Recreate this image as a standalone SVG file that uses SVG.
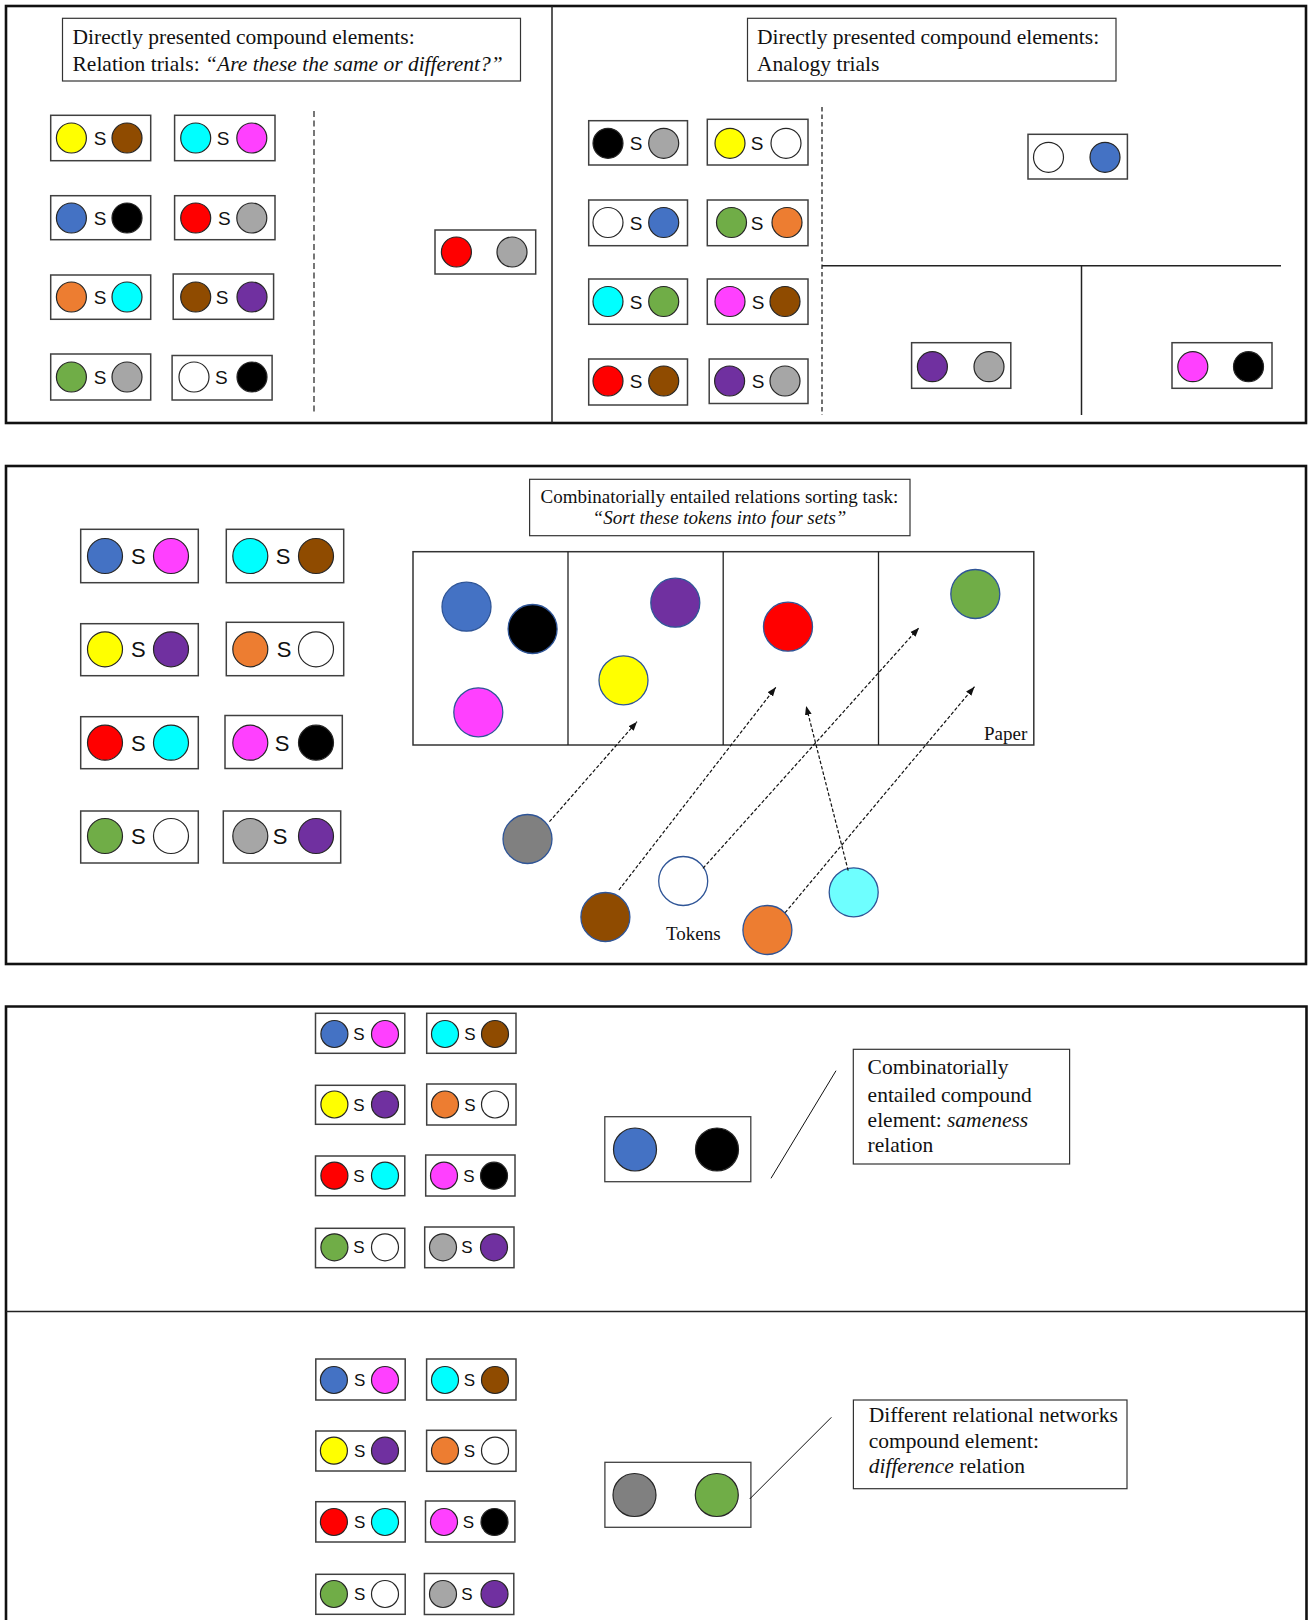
<svg xmlns="http://www.w3.org/2000/svg" width="1309" height="1620" viewBox="0 0 1309 1620">
  <defs>
    <style>
      .frame { fill: none; stroke: #111; stroke-width: 2.6; }
      .rule { stroke: #222; stroke-width: 1.5; fill: none; }
      .dash1 { stroke: #555; stroke-width: 1.6; stroke-dasharray: 6 3.5; fill: none; }
      .dash2 { stroke: #333; stroke-width: 1.4; stroke-dasharray: 4.5 3; fill: none; }
      .pb { fill: #fff; stroke: #404040; stroke-width: 1.5; }
      .tb { fill: #fff; stroke: #333; stroke-width: 1.2; }
      .pc { stroke: #262626; stroke-width: 1.2; }
      .tk { stroke: #2F5597; stroke-width: 1.3; }
      .s1 { font-family: "Liberation Sans", Arial, sans-serif; font-size: 19px; text-anchor: middle; fill: #111; }
      .s2 { font-family: "Liberation Sans", Arial, sans-serif; font-size: 22px; text-anchor: middle; fill: #111; }
      .s3 { font-family: "Liberation Sans", Arial, sans-serif; font-size: 17px; text-anchor: middle; fill: #111; }
      .t21 { font-family: "Liberation Serif", "Times New Roman", serif; font-size: 21.5px; fill: #111; }
      .t19 { font-family: "Liberation Serif", "Times New Roman", serif; font-size: 19px; fill: #111; }
      .it { font-style: italic; }
      .arr { stroke: #111; stroke-width: 1.2; stroke-dasharray: 3.5 2; fill: none; marker-end: url(#head); }
      .call { stroke: #111; stroke-width: 1; fill: none; }
      .yel { fill: #FFFF00; } .brn { fill: #8F4B00; } .cya { fill: #00FFFF; } .mag { fill: #FF40FF; }
      .blu { fill: #4472C4; } .blk { fill: #000; } .red { fill: #FF0000; } .gry { fill: #A6A6A6; }
      .dgy { fill: #808080; } .org { fill: #ED7D31; } .pur { fill: #7030A0; } .grn { fill: #70AD47; }
      .wht { fill: #FFFFFF; } .lcy { fill: #6EFFFF; }
    </style>
    <marker id="head" viewBox="0 0 10 10" refX="10" refY="5" markerWidth="9" markerHeight="9" markerUnits="userSpaceOnUse" orient="auto">
      <path d="M0,1.2 L10,5 L0,8.8 z" fill="#111"/>
    </marker>
  </defs>

  <rect width="1309" height="1620" fill="#fff"/>

  <!-- panel frames and dividers -->
  <g id="frames">
    <rect class="frame" x="6" y="6" width="1300" height="417"/>
    <line class="rule" x1="552" y1="6" x2="552" y2="423"/>
    <rect class="frame" x="6" y="466" width="1300" height="498"/>
    <path class="frame" d="M6,1620 V1006.5 H1306.5 V1620"/>
    <line class="rule" x1="6" y1="1311.5" x2="1306" y2="1311.5" style="stroke-width:1.3"/>
    <line class="dash1" x1="314" y1="111" x2="314" y2="413"/>
    <line class="dash2" x1="822" y1="107" x2="822" y2="415"/>
    <line class="rule" x1="822" y1="265.7" x2="1281" y2="265.7"/>
    <line class="rule" x1="1081.5" y1="265.7" x2="1081.5" y2="415"/>
  </g>

  <!-- top left: relation trials -->
  <g id="title-relation">
    <rect class="tb" x="62.5" y="18.3" width="458" height="62.7"/>
    <text class="t21" x="72.5" y="44">Directly presented compound elements:</text>
    <text class="t21" x="72.5" y="70.7">Relation trials: <tspan class="it">“Are these the same or different?”</tspan></text>
  </g>
  <g id="r-pair-1"><rect class="pb" x="50.7" y="115.3" width="100" height="45.4"/><circle class="pc yel" cx="71.4" cy="138" r="15"/><text class="s1" x="100" y="145">S</text><circle class="pc brn" cx="127" cy="138" r="15"/></g>
  <g id="r-pair-2"><rect class="pb" x="174.6" y="115.3" width="100.4" height="45.4"/><circle class="pc cya" cx="195.7" cy="138" r="15"/><text class="s1" x="223" y="145">S</text><circle class="pc mag" cx="251.8" cy="138" r="15"/></g>
  <g id="r-pair-3"><rect class="pb" x="50.7" y="195.7" width="100" height="44"/><circle class="pc blu" cx="71.4" cy="218" r="15"/><text class="s1" x="100" y="225">S</text><circle class="pc blk" cx="127" cy="218" r="15"/></g>
  <g id="r-pair-4"><rect class="pb" x="174.6" y="195.7" width="100.4" height="44"/><circle class="pc red" cx="195.7" cy="218" r="15"/><text class="s1" x="224.3" y="225">S</text><circle class="pc gry" cx="251.8" cy="218" r="15"/></g>
  <g id="r-pair-5"><rect class="pb" x="50.7" y="275" width="100" height="44.3"/><circle class="pc org" cx="71.4" cy="297" r="15"/><text class="s1" x="100" y="304">S</text><circle class="pc cya" cx="127" cy="297" r="15"/></g>
  <g id="r-pair-6"><rect class="pb" x="173.2" y="274" width="100.4" height="45.3"/><circle class="pc brn" cx="195.7" cy="297" r="15"/><text class="s1" x="222" y="304">S</text><circle class="pc pur" cx="252" cy="297" r="15"/></g>
  <g id="r-pair-7"><rect class="pb" x="50.7" y="354" width="100" height="46"/><circle class="pc grn" cx="71.4" cy="377" r="15"/><text class="s1" x="100" y="384">S</text><circle class="pc gry" cx="127" cy="377" r="15"/></g>
  <g id="r-pair-8"><rect class="pb" x="172.1" y="355.5" width="100" height="44.5"/><circle class="pc wht" cx="194" cy="377" r="15"/><text class="s1" x="221.4" y="384">S</text><circle class="pc blk" cx="252" cy="377" r="15"/></g>
  <g id="r-probe"><rect class="pb" x="435" y="230" width="100.7" height="44"/><circle class="pc red" cx="456.4" cy="252" r="15"/><circle class="pc gry" cx="512" cy="252" r="15"/></g>

  <!-- top right: analogy trials -->
  <g id="title-analogy">
    <rect class="tb" x="747.5" y="18.3" width="368.5" height="62.7"/>
    <text class="t21" x="757" y="44">Directly presented compound elements:</text>
    <text class="t21" x="757" y="70.7">Analogy trials</text>
  </g>
  <g id="a-pair-1"><rect class="pb" x="588.7" y="120.7" width="98.8" height="44.3"/><circle class="pc blk" cx="608" cy="143.3" r="15"/><text class="s1" x="636" y="150.3">S</text><circle class="pc gry" cx="663.7" cy="143.3" r="15"/></g>
  <g id="a-pair-2"><rect class="pb" x="707.3" y="119.3" width="100.7" height="45.7"/><circle class="pc yel" cx="730" cy="143.3" r="15"/><text class="s1" x="757" y="150.3">S</text><circle class="pc wht" cx="786" cy="143.3" r="15"/></g>
  <g id="a-pair-3"><rect class="pb" x="588.7" y="200" width="98.8" height="45.7"/><circle class="pc wht" cx="608" cy="222.5" r="15"/><text class="s1" x="636" y="229.5">S</text><circle class="pc blu" cx="663.7" cy="222.5" r="15"/></g>
  <g id="a-pair-4"><rect class="pb" x="707.3" y="200" width="100.7" height="45.7"/><circle class="pc grn" cx="731.5" cy="222.5" r="15"/><text class="s1" x="757" y="229.5">S</text><circle class="pc org" cx="787" cy="222.5" r="15"/></g>
  <g id="a-pair-5"><rect class="pb" x="588.7" y="279" width="98.8" height="45.3"/><circle class="pc cya" cx="608" cy="301.5" r="15"/><text class="s1" x="636" y="308.5">S</text><circle class="pc grn" cx="663.7" cy="301.5" r="15"/></g>
  <g id="a-pair-6"><rect class="pb" x="707.3" y="279" width="100.7" height="45.3"/><circle class="pc mag" cx="730" cy="301.5" r="15"/><text class="s1" x="758" y="308.5">S</text><circle class="pc brn" cx="785" cy="301.5" r="15"/></g>
  <g id="a-pair-7"><rect class="pb" x="588.7" y="359" width="98.8" height="46"/><circle class="pc red" cx="608" cy="381" r="15"/><text class="s1" x="636" y="388">S</text><circle class="pc brn" cx="663.7" cy="381" r="15"/></g>
  <g id="a-pair-8"><rect class="pb" x="709.2" y="359" width="98.8" height="44.5"/><circle class="pc pur" cx="729.6" cy="381" r="15"/><text class="s1" x="758" y="388">S</text><circle class="pc gry" cx="785" cy="381" r="15"/></g>
  <g id="a-probe-top"><rect class="pb" x="1028" y="134.3" width="99.4" height="44.7"/><circle class="pc wht" cx="1048.5" cy="157.3" r="15"/><circle class="pc blu" cx="1105" cy="157.3" r="15"/></g>
  <g id="a-probe-left"><rect class="pb" x="911.6" y="342.7" width="99.2" height="45.6"/><circle class="pc pur" cx="932.4" cy="366.7" r="15"/><circle class="pc gry" cx="989" cy="366.7" r="15"/></g>
  <g id="a-probe-right"><rect class="pb" x="1172" y="342.7" width="100" height="45.6"/><circle class="pc mag" cx="1192.8" cy="366.7" r="15"/><circle class="pc blk" cx="1248.5" cy="366.7" r="15"/></g>

  <!-- middle: sorting task -->
  <g id="s-pair-1"><rect class="pb" x="80.7" y="529.3" width="117.6" height="53.4"/><circle class="pc blu" cx="105" cy="556" r="17.5"/><text class="s2" x="138.3" y="564">S</text><circle class="pc mag" cx="171" cy="556" r="17.5"/></g>
  <g id="s-pair-2"><rect class="pb" x="226.3" y="529.3" width="117.4" height="53.4"/><circle class="pc cya" cx="250.3" cy="556" r="17.5"/><text class="s2" x="283" y="564">S</text><circle class="pc brn" cx="316" cy="556" r="17.5"/></g>
  <g id="s-pair-3"><rect class="pb" x="80.7" y="623.7" width="117.6" height="52"/><circle class="pc yel" cx="105" cy="649.3" r="17.5"/><text class="s2" x="138.3" y="657.3">S</text><circle class="pc pur" cx="171" cy="649.3" r="17.5"/></g>
  <g id="s-pair-4"><rect class="pb" x="226.3" y="622.3" width="117.4" height="53.4"/><circle class="pc org" cx="250.3" cy="649.3" r="17.5"/><text class="s2" x="284" y="657.3">S</text><circle class="pc wht" cx="316" cy="649.3" r="17.5"/></g>
  <g id="s-pair-5"><rect class="pb" x="80.7" y="716.7" width="117.6" height="52"/><circle class="pc red" cx="105" cy="742.7" r="17.5"/><text class="s2" x="138.3" y="750.7">S</text><circle class="pc cya" cx="171" cy="742.7" r="17.5"/></g>
  <g id="s-pair-6"><rect class="pb" x="225" y="715.5" width="117.3" height="53"/><circle class="pc mag" cx="250.3" cy="742.7" r="17.5"/><text class="s2" x="282" y="750.7">S</text><circle class="pc blk" cx="316" cy="742.7" r="17.5"/></g>
  <g id="s-pair-7"><rect class="pb" x="80.7" y="811" width="117.6" height="52"/><circle class="pc grn" cx="105" cy="836" r="17.5"/><text class="s2" x="138.3" y="844">S</text><circle class="pc wht" cx="171" cy="836" r="17.5"/></g>
  <g id="s-pair-8"><rect class="pb" x="223.3" y="811" width="117.4" height="52"/><circle class="pc gry" cx="250.3" cy="836" r="17.5"/><text class="s2" x="280" y="844">S</text><circle class="pc pur" cx="316" cy="836" r="17.5"/></g>

  <g id="title-sorting">
    <rect class="tb" x="529.6" y="479.3" width="380.4" height="56.4"/>
    <text class="t19" x="719.5" y="503.3" text-anchor="middle">Combinatorially entailed relations sorting task:</text>
    <text class="t19 it" x="719.5" y="524.3" text-anchor="middle">“Sort these tokens into four sets”</text>
  </g>

  <g id="paper">
    <rect class="tb" x="413" y="551.7" width="620.8" height="193.3" style="stroke-width:1.5"/>
    <line class="rule" x1="568" y1="551.7" x2="568" y2="745" style="stroke-width:1.3"/>
    <line class="rule" x1="723.2" y1="551.7" x2="723.2" y2="745" style="stroke-width:1.3"/>
    <line class="rule" x1="878.5" y1="551.7" x2="878.5" y2="745" style="stroke-width:1.3"/>
    <text class="t19" x="984" y="740">Paper</text>
    <circle class="tk blu" cx="466.5" cy="606.7" r="24.5"/>
    <circle class="tk blk" cx="532.6" cy="629" r="24.5"/>
    <circle class="tk mag" cx="478.3" cy="712.3" r="24.5"/>
    <circle class="tk pur" cx="675.3" cy="602.7" r="24.5"/>
    <circle class="tk yel" cx="623.5" cy="680.3" r="24.5"/>
    <circle class="tk red" cx="788" cy="626.7" r="24.5"/>
    <circle class="tk grn" cx="975.3" cy="594" r="24.5"/>
  </g>

  <g id="tokens">
    <circle class="tk dgy" cx="527.5" cy="839" r="24.5"/>
    <circle class="tk brn" cx="605.4" cy="917" r="24.5"/>
    <circle class="tk wht" cx="683.2" cy="881" r="24.5"/>
    <circle class="tk org" cx="767.4" cy="930" r="24.5"/>
    <circle class="tk lcy" cx="853.7" cy="892.3" r="24.5"/>
    <text class="t19" x="666" y="940">Tokens</text>
  </g>

  <!-- bottom: combinatorial entailment and different networks -->
  <g id="c-pair-1"><rect class="pb" x="315.5" y="1013.3" width="89.3" height="40"/><circle class="pc blu" cx="334.4" cy="1034" r="13.5"/><text class="s3" x="359" y="1040">S</text><circle class="pc mag" cx="385" cy="1034" r="13.5"/></g>
  <g id="c-pair-2"><rect class="pb" x="426.7" y="1013.3" width="89.3" height="40"/><circle class="pc cya" cx="445" cy="1034" r="13.5"/><text class="s3" x="470" y="1040">S</text><circle class="pc brn" cx="495" cy="1034" r="13.5"/></g>
  <g id="c-pair-3"><rect class="pb" x="315.5" y="1085.3" width="89.3" height="39"/><circle class="pc yel" cx="334.4" cy="1104.5" r="13.5"/><text class="s3" x="359" y="1110.5">S</text><circle class="pc pur" cx="385" cy="1104.5" r="13.5"/></g>
  <g id="c-pair-4"><rect class="pb" x="426.7" y="1084" width="89.3" height="41"/><circle class="pc org" cx="445" cy="1104.5" r="13.5"/><text class="s3" x="470" y="1110.5">S</text><circle class="pc wht" cx="495" cy="1104.5" r="13.5"/></g>
  <g id="c-pair-5"><rect class="pb" x="315.5" y="1156" width="89.3" height="39.7"/><circle class="pc red" cx="334.4" cy="1175.7" r="13.5"/><text class="s3" x="359" y="1181.7">S</text><circle class="pc cya" cx="385" cy="1175.7" r="13.5"/></g>
  <g id="c-pair-6"><rect class="pb" x="425.7" y="1155" width="89.3" height="41"/><circle class="pc mag" cx="444" cy="1175.7" r="13.5"/><text class="s3" x="469" y="1181.7">S</text><circle class="pc blk" cx="494" cy="1175.7" r="13.5"/></g>
  <g id="c-pair-7"><rect class="pb" x="315.5" y="1228.3" width="89.3" height="39.4"/><circle class="pc grn" cx="334.4" cy="1247.3" r="13.5"/><text class="s3" x="359" y="1253.3">S</text><circle class="pc wht" cx="385" cy="1247.3" r="13.5"/></g>
  <g id="c-pair-8"><rect class="pb" x="424.7" y="1227" width="89.3" height="40.7"/><circle class="pc gry" cx="443" cy="1247.3" r="13.5"/><text class="s3" x="467" y="1253.3">S</text><circle class="pc pur" cx="494" cy="1247.3" r="13.5"/></g>
  <g id="c-probe"><rect class="pb" x="604.8" y="1116.7" width="146" height="65" style="stroke-width:1.3"/><circle class="pc blu" cx="635" cy="1149.5" r="21.5"/><circle class="pc blk" cx="717" cy="1149.5" r="21.5"/></g>
  <g id="c-label">
    <rect class="tb" x="853.3" y="1049.3" width="216.3" height="114.7"/>
    <text class="t21" x="867.6" y="1074">Combinatorially</text>
    <text class="t21" x="867.6" y="1101.7">entailed compound</text>
    <text class="t21" x="867.6" y="1126.7">element: <tspan class="it">sameness</tspan></text>
    <text class="t21" x="867.6" y="1152.3">relation</text>
  </g>

  <g id="d-pair-1"><rect class="pb" x="315.8" y="1359" width="89.4" height="41"/><circle class="pc blu" cx="333.9" cy="1380" r="13.5"/><text class="s3" x="359.7" y="1386">S</text><circle class="pc mag" cx="385" cy="1380" r="13.5"/></g>
  <g id="d-pair-2"><rect class="pb" x="426.6" y="1359" width="89.4" height="41"/><circle class="pc cya" cx="445" cy="1380" r="13.5"/><text class="s3" x="469.4" y="1386">S</text><circle class="pc brn" cx="495" cy="1380" r="13.5"/></g>
  <g id="d-pair-3"><rect class="pb" x="315.8" y="1431" width="89.4" height="40"/><circle class="pc yel" cx="333.9" cy="1450.7" r="13.5"/><text class="s3" x="359.7" y="1456.7">S</text><circle class="pc pur" cx="385" cy="1450.7" r="13.5"/></g>
  <g id="d-pair-4"><rect class="pb" x="426.6" y="1430.3" width="89.4" height="41"/><circle class="pc org" cx="445" cy="1450.7" r="13.5"/><text class="s3" x="469.4" y="1456.7">S</text><circle class="pc wht" cx="495" cy="1450.7" r="13.5"/></g>
  <g id="d-pair-5"><rect class="pb" x="315.8" y="1501.7" width="89.4" height="40.3"/><circle class="pc red" cx="333.9" cy="1522" r="13.5"/><text class="s3" x="359.7" y="1528">S</text><circle class="pc cya" cx="385" cy="1522" r="13.5"/></g>
  <g id="d-pair-6"><rect class="pb" x="425.5" y="1501" width="89.4" height="41"/><circle class="pc mag" cx="444" cy="1522" r="13.5"/><text class="s3" x="468.5" y="1528">S</text><circle class="pc blk" cx="494.5" cy="1522" r="13.5"/></g>
  <g id="d-pair-7"><rect class="pb" x="315.8" y="1574.3" width="89.4" height="40"/><circle class="pc grn" cx="333.9" cy="1594" r="13.5"/><text class="s3" x="359.7" y="1600">S</text><circle class="pc wht" cx="385" cy="1594" r="13.5"/></g>
  <g id="d-pair-8"><rect class="pb" x="424.4" y="1573.5" width="89.4" height="41"/><circle class="pc gry" cx="443" cy="1594" r="13.5"/><text class="s3" x="467" y="1600">S</text><circle class="pc pur" cx="494.5" cy="1594" r="13.5"/></g>
  <g id="d-probe"><rect class="pb" x="604.9" y="1462.3" width="146" height="65" style="stroke-width:1.3"/><circle class="pc dgy" cx="634.5" cy="1495" r="21.5"/><circle class="pc grn" cx="716.8" cy="1495" r="21.5"/></g>
  <g id="d-label">
    <rect class="tb" x="853.4" y="1400" width="273.6" height="88.7"/>
    <text class="t21" x="868.7" y="1421.7">Different relational networks</text>
    <text class="t21" x="868.7" y="1448.3">compound element:</text>
    <text class="t21" x="868.7" y="1473.3"><tspan class="it">difference</tspan> relation</text>
  </g>

  <!-- connectors: token moves and callout leaders -->
  <g id="connectors">
    <line class="arr" x1="549.4" y1="821.7" x2="637" y2="721.7"/>
    <line class="arr" x1="618.9" y1="890" x2="775.8" y2="687.3"/>
    <line class="arr" x1="703" y1="868.3" x2="919" y2="627.7"/>
    <line class="arr" x1="848.2" y1="870.7" x2="806.1" y2="706"/>
    <line class="arr" x1="785.1" y1="912.7" x2="974.5" y2="686.7"/>
    <line class="call" x1="771" y1="1178.3" x2="836" y2="1070.7"/>
    <line class="call" x1="749.7" y1="1499" x2="831.4" y2="1417.3"/>
  </g>
</svg>
